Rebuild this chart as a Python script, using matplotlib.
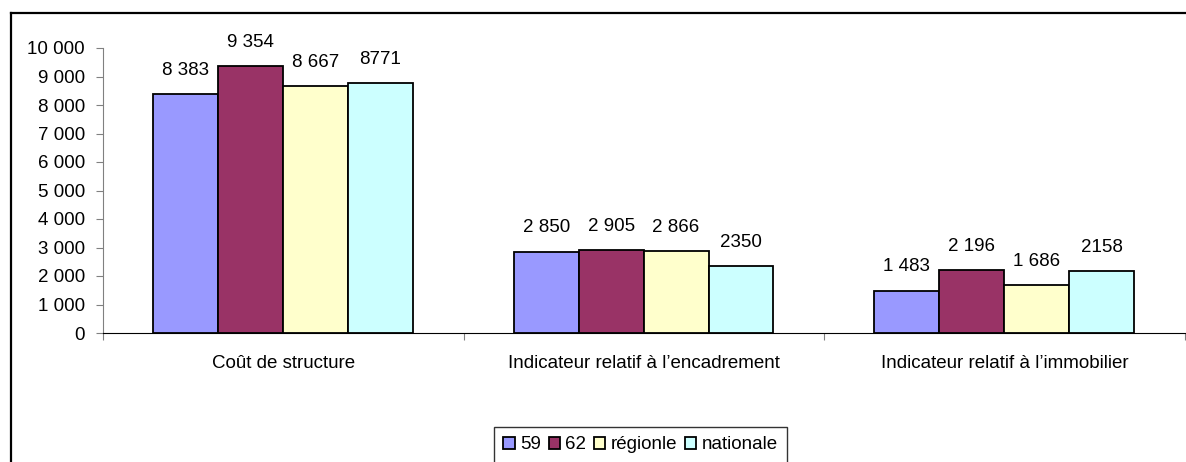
import matplotlib
matplotlib.use("Agg")
import matplotlib.pyplot as plt
import numpy as np
from matplotlib.lines import Line2D

plt.rcParams['font.family'] = ['Liberation Sans', 'DejaVu Sans']

categories = ["Coût de structure", "Indicateur relatif à l’encadrement", "Indicateur relatif à l’immobilier"]
series = ["59", "62", "régionle", "nationale"]
values = [
    [8383, 2850, 1483],
    [9354, 2905, 2196],
    [8667, 2866, 1686],
    [8771, 2350, 2158],
]
value_labels = [
    ["8 383", "2 850", "1 483"],
    ["9 354", "2 905", "2 196"],
    ["8 667", "2 866", "1 686"],
    ["8771", "2350", "2158"],
]
colors = ["#9999FF", "#993366", "#FFFFCC", "#CCFFFF"]
yticks = [0, 1000, 2000, 3000, 4000, 5000, 6000, 7000, 8000, 9000, 10000]
ytick_labels = ["0", "1 000", "2 000", "3 000", "4 000", "5 000", "6 000", "7 000", "8 000", "9 000", "10 000"]

W, H = 1186, 462
fs = 13.5
fig = plt.figure(figsize=(W / 100, H / 100), dpi=100)
ax = fig.add_axes([103 / W, 1 - 333 / H, (1185 - 103) / W, (333 - 48) / H])

bw = 0.18
start = 0.139
x = np.arange(len(categories))
for i, s in enumerate(series):
    xs = x + start + bw * i + bw / 2
    ax.bar(xs, values[i], width=bw, color=colors[i], edgecolor="black", linewidth=1.3, label=s, zorder=3)
    for xx, v, lab in zip(xs, values[i], value_labels[i]):
        ax.annotate(lab, (xx, v), xytext=(0, 11), textcoords="offset points",
                    ha="center", va="bottom", fontsize=fs)

ax.set_xlim(0, len(categories))
ax.set_ylim(0, 10000)
ax.set_yticks(yticks)
ax.set_yticklabels(ytick_labels, fontsize=fs)
ax.set_xticks(np.arange(len(categories) + 1))
ax.set_xticklabels([])
ax.set_xticks(x + 0.5, minor=True)
ax.set_xticklabels(categories, minor=True, fontsize=fs)
ax.tick_params(axis="x", which="minor", length=0, pad=16)
ax.tick_params(axis="x", which="major", length=5, color="#808080", direction="out")
ax.tick_params(axis="y", length=5, color="#808080", pad=8)

for sp in ["top", "right"]:
    ax.spines[sp].set_visible(False)
ax.spines["left"].set_color("#808080")
ax.spines["bottom"].set_color("black")

# outer chart frame
fig.add_artist(Line2D([10.5 / W, 10.5 / W], [0, 1 - 13 / H], color="black", linewidth=1.6))
fig.add_artist(Line2D([10.5 / W, 1], [1 - 13 / H, 1 - 13 / H], color="black", linewidth=1.6))

leg = ax.legend(loc="upper left", bbox_to_anchor=(494 / W, 1 - 427 / H), bbox_transform=fig.transFigure,
                ncol=4, fontsize=fs, frameon=True, fancybox=False, edgecolor="black",
                handlelength=0.6, handleheight=0.6, handletextpad=0.3, columnspacing=0.4,
                borderpad=0.5, borderaxespad=0)
leg.get_frame().set_linewidth(1.0)

fig.savefig("out.png", dpi=100)
